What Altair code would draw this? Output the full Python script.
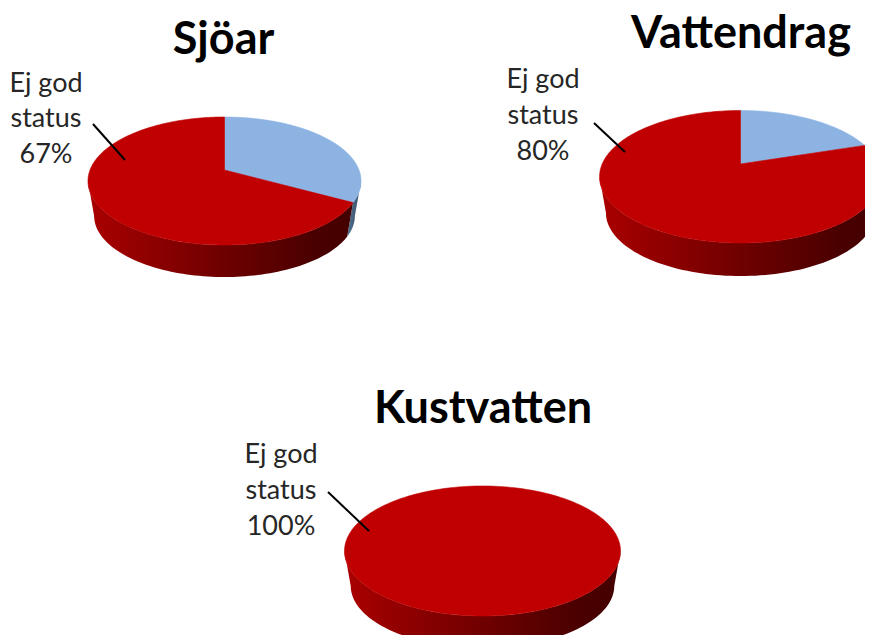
import math
import altair as alt
import pandas as pd

# --- values
titles = ["Sjöar", "Vattendrag", "Kustvatten"]
ej_god_pct = [67, 80, 100]
label_lines = ["Ej god", "status"]

# --- layout of the three tilted pies (picture pixels)
apex_x = [224.5, 740.5, 482.5]
apex_y = [170, 164, 540]
back_reach = [53, 53.5, 54]
front_reach = [75, 79, 76]
half_width = [134.5, 138.3, 136]
wall_drop = [35.4, 36.6, 35.4]
wall_scale = 0.955
title_x = [223.5, 741, 483]
title_base = [54, 48, 423]
label_x = [46, 543, 281]
label_base = [[92, 127, 163], [88, 124, 160], [463, 499, 535]]
leader = [[93, 124, 125, 160], [594, 123, 625, 152], [328, 492, 369, 531]]

RED, BLUE = "#C00000", "#8DB3E2"
WALL_RED = alt.Gradient(gradient="linear", x1=0, x2=1, y1=0, y2=0, stops=[
    alt.GradientStop(offset=0, color="#aa0000"),
    alt.GradientStop(offset=0.2, color="#920000"),
    alt.GradientStop(offset=0.55, color="#6a0000"),
    alt.GradientStop(offset=0.85, color="#4a0000"),
    alt.GradientStop(offset=1, color="#440000")])
WALL_BLUE = alt.Gradient(gradient="linear", x1=0, x2=1, y1=0, y2=0, stops=[
    alt.GradientStop(offset=0, color="#4f6f8f"),
    alt.GradientStop(offset=1, color="#3a5068")])


def project(i, deg, lower=False):
    p = (back_reach[i] - front_reach[i]) / (back_reach[i] + front_reach[i])
    k = back_reach[i] * (1 - p)
    u, v = math.sin(math.radians(deg)), -math.cos(math.radians(deg))
    w = 1 + p * v
    dx, dy = half_width[i] * u / w, k * v / w
    if lower:
        return apex_x[i] + wall_scale * dx, apex_y[i] + wall_drop[i] + wall_scale * dy
    return apex_x[i] + dx, apex_y[i] + dy


def degs(a, b, n=90):
    return [a + (b - a) * j / n for j in range(n + 1)]


tops, walls = [], []
for i, pct in enumerate(ej_god_pct):
    edge = (100 - pct) * 3.6
    p = (back_reach[i] - front_reach[i]) / (back_reach[i] + front_reach[i])
    sil = math.degrees(math.acos(p))
    sectors = [("Ej god", edge, 360, RED)]
    if pct < 100:
        sectors.insert(0, ("God", 0, edge, BLUE))
    for name, a, b, col in sectors:
        pts = [project(i, d) for d in degs(a, b, 180)]
        if b - a < 360:
            pts = [(apex_x[i], apex_y[i])] + pts + [(apex_x[i], apex_y[i])]
        key = f"{titles[i]} {name}"
        tops += [dict(key=key, kind=name, x=x, y=y, o=o) for o, (x, y) in enumerate(pts)]
        lo, hi = max(a, sil), min(b, 360 - sil)
        if lo < hi:
            d = degs(lo, hi)
            pts = [project(i, q) for q in d] + [project(i, q, True) for q in reversed(d)]
            walls += [dict(key=key, kind=name, x=x, y=y, o=o) for o, (x, y) in enumerate(pts)]
tops, walls = pd.DataFrame(tops), pd.DataFrame(walls)

title_df = pd.DataFrame(dict(t=titles, x=title_x, y=title_base))
rows = []
for i, pct in enumerate(ej_god_pct):
    for line, base in zip(label_lines + [f"{pct}%"], label_base[i]):
        rows.append(dict(t=line, x=label_x[i], y=base))
label_df = pd.DataFrame(rows)
lead_df = pd.DataFrame([dict(x=a, y=b, x2=c, y2=d) for a, b, c, d in leader])

X = alt.X("x:Q", scale=alt.Scale(domain=[8, 865]), axis=None)
Y = alt.Y("y:Q", scale=alt.Scale(domain=[635, 8]), axis=None)


def shapes(df, kind, fill):
    sub = df[df.kind == kind]
    kw = dict(fill=fill, clip=True)
    if isinstance(fill, str):
        kw.update(stroke=fill, strokeWidth=0.6)
    else:
        kw.update(strokeWidth=0)
    return alt.Chart(sub).mark_line(**kw).encode(X, Y, detail="key:N", order="o:Q")


layers = [
    shapes(walls, "God", WALL_BLUE),
    shapes(walls, "Ej god", WALL_RED),
    shapes(tops, "God", BLUE),
    shapes(tops, "Ej god", RED),
    alt.Chart(lead_df).mark_rule(color="#000000", strokeWidth=2).encode(X, Y, x2="x2:Q", y2="y2:Q"),
    alt.Chart(label_df).mark_text(font="Lato", fontSize=27, color="#262626", align="center", baseline="alphabetic").encode(X, Y, text="t:N"),
    alt.Chart(title_df).mark_text(font="Lato", fontSize=45, fontWeight="bold", color="#000000", align="center", baseline="alphabetic").encode(X, Y, text="t:N"),
]
chart = alt.layer(*layers).properties(width=857, height=627, padding=0).configure_view(stroke=None)
chart.save("out.html", embed_options={"renderer": "svg", "actions": False})
